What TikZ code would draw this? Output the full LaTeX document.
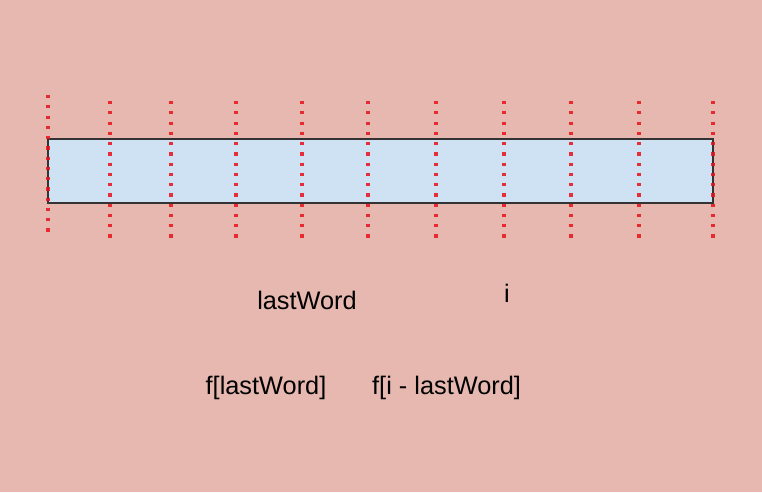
\documentclass[tikz,border=0pt]{standalone}
\usepackage{fontspec}
\setmainfont{Liberation Sans}
\usetikzlibrary{positioning}
\definecolor{bgpink}{HTML}{E6B8AF}
\definecolor{cellblue}{HTML}{CFE2F3}
\definecolor{edgegray}{HTML}{333333}
\definecolor{cutred}{HTML}{E8101A}
\tikzset{
	cut/.style={cutred,line width=2.4pt,dash pattern=on 2.4pt off 5.3pt,opacity=0.85},
	lbl/.style={font=\fontsize{19}{21}\selectfont,inner sep=0pt}
}
\begin{document}
\begin{tikzpicture}[x=0.75pt,y=-0.75pt]
	\useasboundingbox[fill=bgpink] (0,0) rectangle (762,492);
	\draw[edgegray,line width=1.5pt,fill=cellblue] (48,139) rectangle (713,203);
	% cut positions
	\draw[cut] (48,95) -- (48,233);
	\foreach \x in {110,171,236,302,368,436,504,571,639,713}
		\draw[cut] (\x,101) -- (\x,239);
	\node[lbl] (last) at (307,300) {lastWord};
	\node[lbl] (idx) at (507,293) {i};
	\node[lbl] (flast) at (266,388) {f[lastWord]};
	\node[lbl,right=34pt of flast] (frest) {f[i - lastWord]};
\end{tikzpicture}
\end{document}
